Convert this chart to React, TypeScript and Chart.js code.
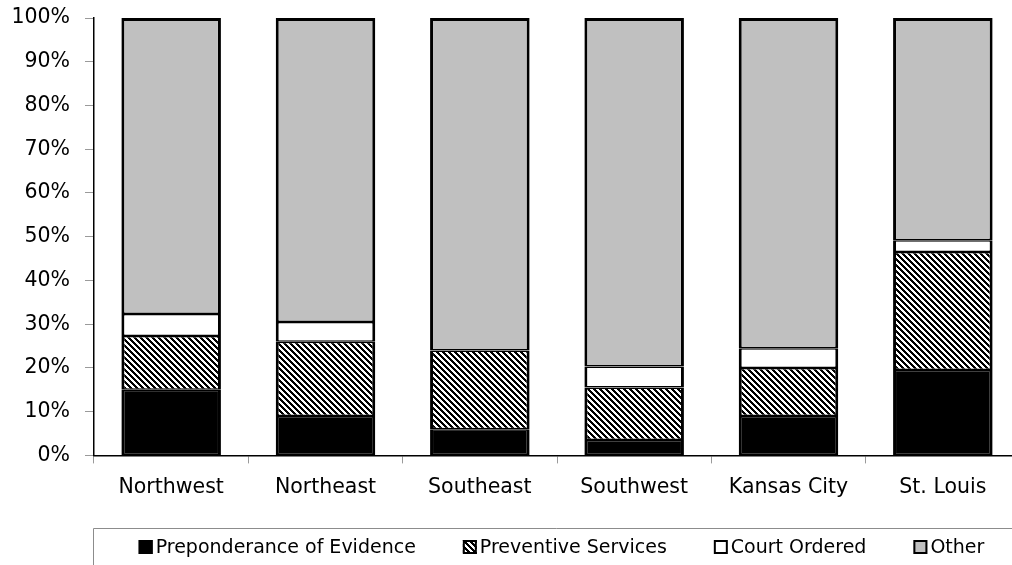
import React, { useEffect, useRef } from "react";
import { Chart, registerables } from "chart.js";

Chart.register(...registerables);

const categories = ["Northwest", "Northeast", "Southeast", "Southwest", "Kansas City", "St. Louis"];
const seriesNames = ["Preponderance of Evidence", "Preventive Services", "Court Ordered", "Other"];
const preponderance = [15, 9, 6, 3.5, 9, 19.5];
const preventive = [12.3, 17, 18, 12, 11, 27];
const courtOrdered = [5, 4.5, 0, 4.8, 4.5, 2.7];
const other = [67.7, 69.5, 76, 79.7, 75.5, 50.8];
const yMin = 0;
const yMax = 100;
const yStep = 10;

const FONT = '"DejaVu Sans", Tahoma, sans-serif';
const CANVAS_W = 1020;
const CANVAS_H = 565;

function makeHatch(): CanvasPattern | string {
  const s = 6;
  const c = document.createElement("canvas");
  c.width = s;
  c.height = s;
  const g = c.getContext("2d");
  if (!g) return "#888";
  const img = g.createImageData(s, s);
  for (let y = 0; y < s; y++) {
    for (let x = 0; x < s; x++) {
      const k = (((x - y) % s) + s) % s;
      const v = k < 3 ? 0 : 255;
      const i = (y * s + x) * 4;
      img.data[i] = v;
      img.data[i + 1] = v;
      img.data[i + 2] = v;
      img.data[i + 3] = 255;
    }
  }
  g.putImageData(img, 0, 0);
  const p = g.createPattern(c, "repeat");
  return p || "#888";
}

const legendPlugin = {
  id: "boxedLegend",
  afterDraw(chart: any) {
    const ctx: CanvasRenderingContext2D = chart.ctx;
    const left = chart.chartArea.left - 1;
    const top = chart.height - 37;
    ctx.save();
    ctx.strokeStyle = "#8c8c8c";
    ctx.lineWidth = 1;
    ctx.beginPath();
    ctx.moveTo(left + 0.5, chart.height);
    ctx.lineTo(left + 0.5, top + 0.5);
    ctx.lineTo(chart.width, top + 0.5);
    ctx.stroke();

    ctx.font = `19px ${FONT}`;
    ctx.textBaseline = "middle";
    ctx.textAlign = "left";
    const box = 14;
    const gapText = 3;
    const gapItem = 47;
    const items = chart.data.datasets.map((ds: any) => ({
      label: ds.label as string,
      fill: ds.backgroundColor,
      w: ctx.measureText(ds.label).width,
    }));
    const total =
      items.reduce((a: number, it: any) => a + box + gapText + it.w, 0) + gapItem * (items.length - 1);
    let x = (left + chart.width) / 2 - total / 2 + 5;
    const cy = top + 19;
    for (const it of items) {
      ctx.fillStyle = it.fill;
      ctx.fillRect(x, cy - box / 2, box, box);
      ctx.strokeStyle = "#000";
      ctx.lineWidth = 2;
      ctx.strokeRect(x + 1, cy - box / 2 + 1, box - 2, box - 2);
      ctx.fillStyle = "#000";
      ctx.fillText(it.label, x + box + gapText, cy + 1);
      x += box + gapText + it.w + gapItem;
    }
    ctx.restore();
  },
};

export default function App() {
  const ref = useRef<HTMLCanvasElement | null>(null);

  useEffect(() => {
    if (!ref.current) return;
    const hatch = makeHatch();
    const fills = ["#000000", hatch, "#ffffff", "#c0c0c0"];
    const values = [preponderance, preventive, courtOrdered, other];
    const chart = new Chart(ref.current, {
      type: "bar",
      data: {
        labels: categories,
        datasets: seriesNames.map((name, i) => ({
          label: name,
          data: values[i],
          backgroundColor: fills[i] as any,
          borderColor: "#000000",
          borderWidth: { left: 3, right: 3, top: i === 3 ? 3 : 1.5, bottom: 1.5 } as any,
          borderSkipped: false as any,
          barPercentage: 0.645,
          categoryPercentage: 1,
        })),
      },
      options: {
        responsive: false,
        animation: false,
        devicePixelRatio: 1,
        layout: { padding: { top: 18, right: 0, left: 0, bottom: 53 } },
        plugins: {
          legend: { display: false },
          tooltip: { enabled: false },
        },
        scales: {
          x: {
            stacked: true,
            border: { display: true, color: "#000", width: 1.5 },
            grid: {
              display: true,
              drawOnChartArea: false,
              drawTicks: true,
              tickLength: 8,
              color: "#9a9a9a",
              offset: true,
            },
            ticks: {
              color: "#000",
              font: { family: FONT, size: 20.5 },
              padding: 12,
              maxRotation: 0,
            },
          },
          y: {
            stacked: true,
            min: yMin,
            max: yMax,
            afterFit(scale: any) {
              scale.width = 94;
              scale.paddingTop = 0;
              scale.paddingBottom = 0;
            },
            border: { display: true, color: "#000", width: 1.5 },
            grid: {
              display: true,
              drawOnChartArea: false,
              drawTicks: true,
              tickLength: 9,
              color: "#9a9a9a",
            },
            ticks: {
              stepSize: yStep,
              color: "#000",
              font: { family: FONT, size: 20.5 },
              padding: 15,
              callback: (v: any) => `${v}%`,
            },
          },
        },
      },
      plugins: [legendPlugin],
    });
    return () => chart.destroy();
  }, []);

  return (
    <div
      style={{
        position: "absolute",
        left: 0,
        top: 0,
        width: 1012,
        height: CANVAS_H,
        overflow: "hidden",
        background: "#fff",
      }}
    >
      <canvas ref={ref} width={CANVAS_W} height={CANVAS_H} style={{ display: "block" }} />
    </div>
  );
}
